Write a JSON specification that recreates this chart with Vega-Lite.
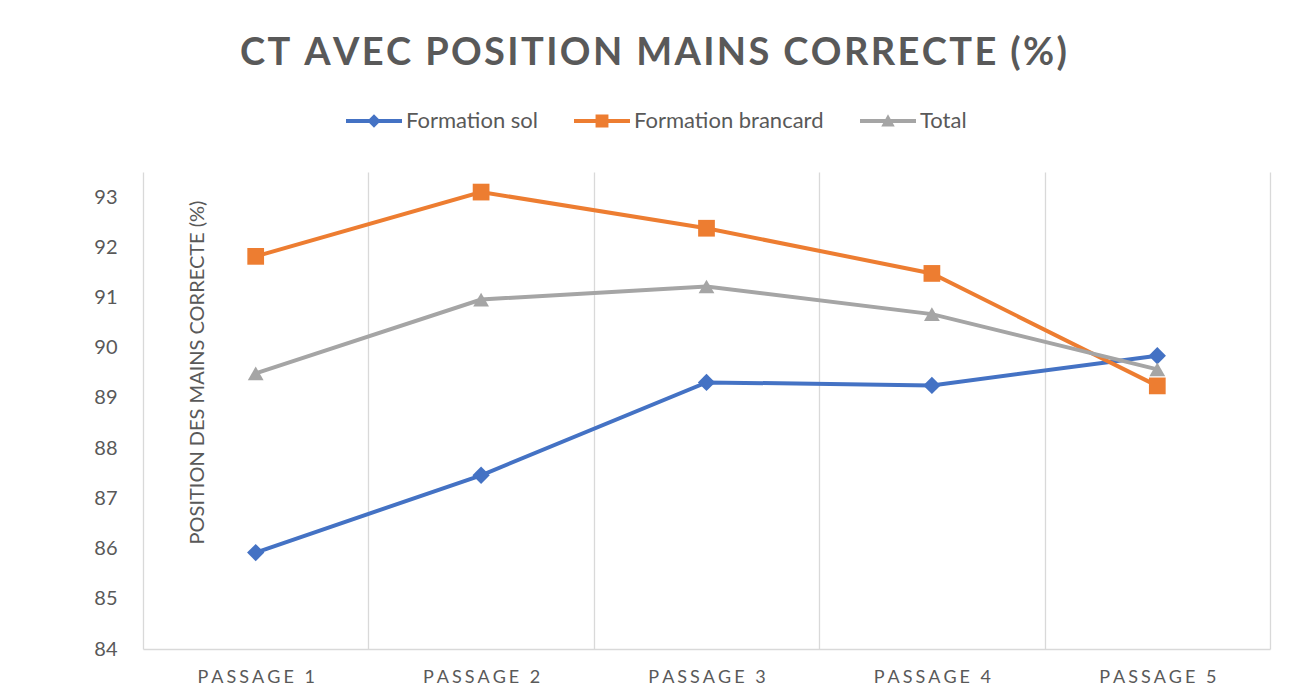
{
  "$schema": "https://vega.github.io/schema/vega-lite/v6.json",
  "width": 1127,
  "height": 477,
  "autosize": "none",
  "padding": {"left": 143, "top": 172, "right": 36, "bottom": 50},
  "background": "white",
  "config": {"view": {"stroke": null}, "font": "Lato"},
  "title": {
    "text": {"expr": "replace('CT AVEC POSITION MAINS CORRECTE (%)', regexp('(.)(?!$)', 'g'), '$1\u200A')"},
    "font": "Lato",
    "fontSize": 38,
    "fontWeight": "bold",
    "color": "#595959",
    "anchor": "middle",
    "baseline": "alphabetic",
    "offset": 40,
    "dy": 50,
    "dx": -53
  },
  "data": {
    "values": [
      {"passage": "PASSAGE 1", "serie": "Formation sol", "valeur": 85.92},
      {"passage": "PASSAGE 2", "serie": "Formation sol", "valeur": 87.46},
      {"passage": "PASSAGE 3", "serie": "Formation sol", "valeur": 89.31},
      {"passage": "PASSAGE 4", "serie": "Formation sol", "valeur": 89.25},
      {"passage": "PASSAGE 5", "serie": "Formation sol", "valeur": 89.84},
      {"passage": "PASSAGE 1", "serie": "Formation brancard", "valeur": 91.82},
      {"passage": "PASSAGE 2", "serie": "Formation brancard", "valeur": 93.1},
      {"passage": "PASSAGE 3", "serie": "Formation brancard", "valeur": 92.38},
      {"passage": "PASSAGE 4", "serie": "Formation brancard", "valeur": 91.48},
      {"passage": "PASSAGE 5", "serie": "Formation brancard", "valeur": 89.24},
      {"passage": "PASSAGE 1", "serie": "Total", "valeur": 89.49},
      {"passage": "PASSAGE 2", "serie": "Total", "valeur": 90.96},
      {"passage": "PASSAGE 3", "serie": "Total", "valeur": 91.22},
      {"passage": "PASSAGE 4", "serie": "Total", "valeur": 90.67},
      {"passage": "PASSAGE 5", "serie": "Total", "valeur": 89.57}
    ]
  },
  "encoding": {
    "x": {
      "field": "passage",
      "type": "nominal",
      "sort": null,
      "scale": {"type": "band", "paddingInner": 0, "paddingOuter": 0},
      "axis": {
        "title": null,
        "tickBand": "extent",
        "grid": true,
        "gridColor": "#d9d9d9",
        "gridWidth": 1.3,
        "domainColor": "#d9d9d9",
        "domainWidth": 1.3,
        "ticks": false,
        "labelAngle": 0,
        "labelFont": "Lato",
        "labelFontSize": 18,
        "labelColor": "#595959",
        "labelPadding": 19,
        "labelExpr": "replace(datum.label, regexp('(.)(?!$)', 'g'), '$1\u2006')"
      }
    },
    "y": {
      "field": "valeur",
      "type": "quantitative",
      "scale": {"domain": [84, 93.5], "nice": false, "zero": false},
      "axis": {
        "values": [84, 85, 86, 87, 88, 89, 90, 91, 92, 93],
        "grid": false,
        "domain": false,
        "ticks": false,
        "labelFont": "Lato",
        "labelFontSize": 20,
        "labelColor": "#595959",
        "labelPadding": 26,
        "title": "POSITION DES MAINS CORRECTE (%)",
        "titleFont": "Lato",
        "titleFontSize": 20,
        "titleFontWeight": "normal",
        "titleColor": "#595959",
        "titleX": 54,
        "titleY": 200,
        "titleAngle": -90,
        "titleAlign": "center",
        "titleBaseline": "middle"
      }
    },
    "color": {
      "field": "serie",
      "type": "nominal",
      "scale": {
        "domain": ["Formation sol", "Formation brancard", "Total"],
        "range": ["#4472C4", "#ED7D31", "#A5A5A5"]
      },
      "legend": {
        "orient": "none",
        "legendX": 203,
        "legendY": -79,
        "direction": "horizontal",
        "title": null,
        "labelFont": "Lato",
        "labelFontSize": 22,
        "labelColor": "#595959",
        "labelLimit": 300,
        "symbolType": "square",
        "symbolSize": 3136,
        "symbolStrokeWidth": 0,
        "labelOffset": 4,
        "columnPadding": 36,
        "encode": {
          "symbols": {
            "update": {
              "shape": {"signal": "datum.value === 'Formation sol' ? 'M-1,-0.07L1,-0.07L1,0.07L-1,0.07Z M-0.24,0L0,-0.24L0.24,0L0,0.24Z' : datum.value === 'Formation brancard' ? 'M-1,-0.07L1,-0.07L1,0.07L-1,0.07Z M-0.23,-0.23L0.23,-0.23L0.23,0.23L-0.23,0.23Z' : 'M-1,-0.07L1,-0.07L1,0.07L-1,0.07Z M-0.24,0.2L0,-0.24L0.24,0.2Z'"},
              "fill": {"scale": "color", "field": "value"},
              "opacity": {"value": 1},
              "strokeWidth": {"value": 0}
            }
          }
        }
      }
    }
  },
  "layer": [
    {
      "mark": {"type": "line", "strokeWidth": 4},
      "encoding": {"detail": {"field": "serie"}}
    },
    {
      "transform": [{"filter": "datum.serie === 'Formation sol'"}],
      "mark": {"type": "point", "shape": "diamond", "filled": true, "opacity": 1, "size": 300}
    },
    {
      "transform": [{"filter": "datum.serie === 'Formation brancard'"}],
      "mark": {"type": "point", "shape": "square", "filled": true, "opacity": 1, "size": 280}
    },
    {
      "transform": [{"filter": "datum.serie === 'Total'"}],
      "mark": {"type": "point", "shape": "triangle-up", "filled": true, "opacity": 1, "size": 250}
    }
  ]
}
